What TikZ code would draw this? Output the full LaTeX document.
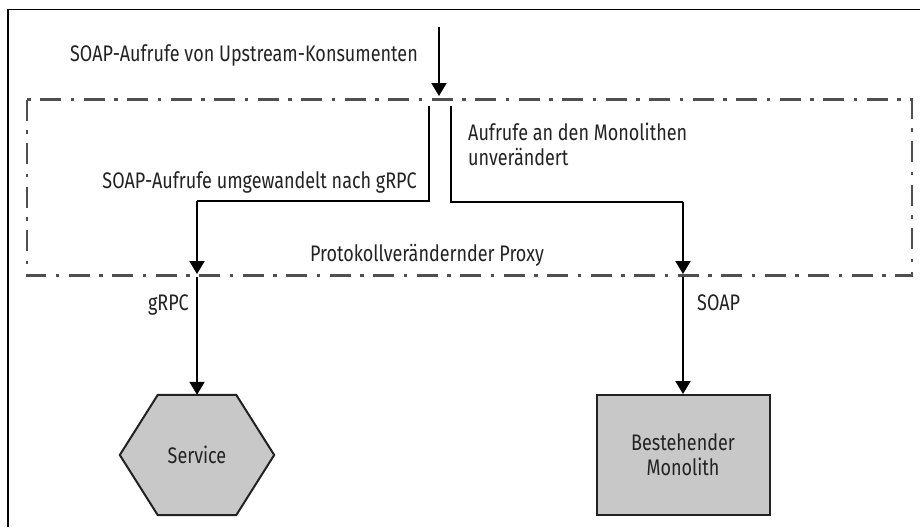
\documentclass[tikz,border=0pt]{standalone}
\usepackage{fontspec}
\setmainfont{Fira Sans}[FakeStretch=0.8]
\usetikzlibrary{arrows.meta,calc}
\definecolor{boxgray}{HTML}{C8C8C8}
\definecolor{proxygray}{HTML}{4F4F4F}
\definecolor{inkgray}{HTML}{222222}
\begin{document}
\begin{tikzpicture}[x=1pt,y=-1pt,
  lbl/.style={font=\fontsize{22.5}{25}\selectfont, text=inkgray, inner sep=0pt},
  flow/.style={line width=2pt, -{Triangle[width=15pt,length=13pt]}},
  wire/.style={line width=2pt},
  proxybox/.style={draw=proxygray, line width=2.5pt,
    dash pattern=on 21pt off 9.5pt on 3.5pt off 9.5pt},
  target/.style={draw=inkgray, line width=2pt, fill=boxgray},
  svc/.style={rectangle, minimum width=154pt, minimum height=120pt, inner sep=0pt,
    text=inkgray, font=\fontsize{22.5}{25}\selectfont},
  mono/.style={target, rectangle, minimum width=173pt, minimum height=120pt,
    align=center, text=inkgray, font=\fontsize{22.5}{25}\selectfont}]
\useasboundingbox (0,0) rectangle (920,527);
% frame edges
\draw[line width=1.3pt] (8,527) -- (8,9.3) -- (920,9.3);

% proxy boundary
\draw[proxybox] (27,99.5) rectangle (912,275.5);
\node[lbl, anchor=base] (proxy) at (427,261) {Protokollverändernder Proxy};

% incoming calls
\coordinate (src) at (439,27);
\coordinate (entry) at (439,96);
\draw[flow] (src) -- (entry);
\node[lbl, anchor=base east] (incoming) at (418,62) {SOAP-Aufrufe von Upstream-Konsumenten};

% branch to the service
\coordinate (la) at (429,106);
\coordinate (lb) at (429,201);
\coordinate (lc) at (197,201);
\coordinate (ld) at (197,274);
\draw[wire] (la) -- (lb) -- (lc);
\draw[flow] (lc) -- (ld);
\node[lbl, anchor=base east] (conv) at (417,188) {SOAP-Aufrufe umgewandelt nach gRPC};

% branch to the monolith
\coordinate (ra) at (451,106);
\coordinate (rb) at (451,202);
\coordinate (rc) at (683,202);
\coordinate (rd) at (683,274);
\draw[wire] (ra) -- (rb) -- (rc);
\draw[flow] (rc) -- (rd);
\node[lbl, anchor=base west, align=left] (pass) at (468,165) {Aufrufe an den Monolithen\\unverändert};

% targets
\node[svc] (service) at (197,455) {};
\draw[target] (service.west) -- ($(service.north west)+(38,0)$) -- ($(service.north east)+(-38,0)$)
  -- (service.east) -- ($(service.south east)+(-38,0)$) -- ($(service.south west)+(38,0)$) -- cycle;
\node[svc] at (service.center) {Service};
\node[mono] (monolith) at (683,455) {Bestehender\\Monolith};

\coordinate (lout) at (197,277);
\coordinate (rout) at (683,277);
\draw[flow] (lout) -- (service.north);
\draw[flow] (rout) -- (monolith.north);
\node[lbl, anchor=base east] (grpc) at (189,310) {gRPC};
\node[lbl, anchor=base west] (soap) at (697,310) {SOAP};
\end{tikzpicture}
\end{document}
